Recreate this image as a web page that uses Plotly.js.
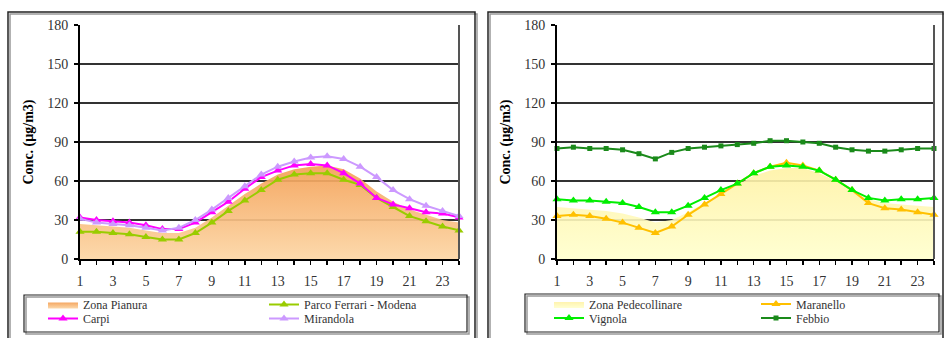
<!DOCTYPE html>
<html>
<head>
<meta charset="utf-8">
<script src="https://cdn.plot.ly/plotly-3.0.1.min.js"></script>
<style>html,body{margin:0;padding:0;background:#fff;}#chart{width:944px;height:338px;}</style>
</head>
<body>
<div id="chart"></div>
<script>
// ---- data (hours 1..24) ----
const hours = [1,2,3,4,5,6,7,8,9,10,11,12,13,14,15,16,17,18,19,20,21,22,23,24];
const yTicks = [0,30,60,90,120,150,180];
const xTickLabels = [1,3,5,7,9,11,13,15,17,19,21,23];

// left chart: pianura
const zonaPianura  = [27,26,25,24,22,20,20,24,32,41,50,58,65,69,71,72,69,62,52,44,38,34,30,28];
const parcoFerrari = [21,21,20,19,17,15,15,20,28,37,45,53,61,65,66,66,61,57,47,40,33,29,25,22];
const carpi        = [32,30,29,28,26,23,23,28,36,44,54,63,68,72,73,72,66,58,47,42,39,36,35,32];
const mirandola    = [31,28,27,26,24,22,24,30,38,47,56,65,71,75,78,79,77,71,63,53,46,41,37,33];

// right chart: pedecollinare
const zonaPedecollinare = [40,39,38,37,35,32,28,30,36,43,50,57,64,68,70,70,66,60,52,46,43,42,41,40];
const maranello = [33,34,33,31,28,24,20,25,34,42,50,58,66,71,74,72,68,61,53,43,39,38,36,34];
const vignola   = [46,45,45,44,43,40,36,36,41,47,53,58,66,71,72,71,68,61,53,47,45,46,46,47];
const febbio    = [85,86,85,85,84,81,77,82,85,86,87,88,89,91,91,90,89,86,84,83,83,84,85,85];

// ---- helpers ----
const W = 944, H = 338;
const px = v => v / W;
const py = v => 1 - v / H;
const serif = '"Liberation Serif", "Times New Roman", serif';

function lineTrace(name, y, color, symbol, size, xa, ya, leg) {
  return {
    type: 'scatter', mode: 'lines+markers', name: name,
    x: hours, y: y, xaxis: xa, yaxis: ya, legend: leg,
    line: {color: color, width: 2},
    marker: {symbol: symbol, size: size, color: color},
    cliponaxis: false, hoverinfo: 'skip'
  };
}
function areaTrace(name, y, cBottom, cTop, xa, ya, leg) {
  return {
    type: 'scatter', mode: 'lines', name: name,
    x: hours, y: y, xaxis: xa, yaxis: ya, legend: leg,
    fill: 'tozeroy', line: {width: 0, color: cTop},
    fillcolor: cTop,
    fillgradient: {type: 'vertical', colorscale: [[0, cBottom], [1, cTop]]},
    hoverinfo: 'skip'
  };
}

const traces = [
  areaTrace('Zona Pianura', zonaPianura, 'rgba(252,214,165,0.92)', 'rgba(244,160,85,0.92)', 'x', 'y', 'legend'),
  lineTrace('Parco Ferrari - Modena', parcoFerrari, '#99CC00', 'triangle-up', 8, 'x', 'y', 'legend3'),
  lineTrace('Carpi', carpi, '#FF00FF', 'triangle-up', 8, 'x', 'y', 'legend2'),
  lineTrace('Mirandola', mirandola, '#CC99FF', 'triangle-up', 8, 'x', 'y', 'legend4'),
  areaTrace('Zona Pedecollinare', zonaPedecollinare, 'rgba(255,255,205,0.9)', 'rgba(255,242,165,0.9)', 'x2', 'y2', 'legend5'),
  lineTrace('Maranello', maranello, '#FFC000', 'triangle-up', 8, 'x2', 'y2', 'legend7'),
  lineTrace('Vignola', vignola, '#00EE00', 'triangle-up', 8, 'x2', 'y2', 'legend6'),
  lineTrace('Febbio', febbio, '#1A8A1A', 'square', 5, 'x2', 'y2', 'legend8')
];

function xAxis(domain, anchor) {
  return {
    domain: domain, anchor: anchor, range: [1, 24], fixedrange: true,
    showline: true, linecolor: '#000', linewidth: 2,
    showgrid: false, zeroline: false,
    tickmode: 'array', tickvals: xTickLabels, ticktext: xTickLabels.map(String),
    ticks: 'outside', ticklen: 4, tickwidth: 1.5, tickcolor: '#000',
    minor: {tickmode: 'array', tickvals: hours, ticks: 'outside', ticklen: 4, tickwidth: 1.5, tickcolor: '#000', showgrid: false},
    tickfont: {family: serif, size: 14, color: '#333'},
    ticklabelstandoff: 4
  };
}
function yAxis(domain, anchor) {
  return {
    domain: domain, anchor: anchor, range: [0, 180], fixedrange: true,
    showline: true, linecolor: '#000', linewidth: 2,
    showgrid: true, gridcolor: '#333', gridwidth: 1.3, zeroline: false,
    tickmode: 'array', tickvals: yTicks,
    ticks: 'outside', ticklen: 4, tickwidth: 1.5, tickcolor: '#000',
    tickfont: {family: serif, size: 14, color: '#333'},
    ticklabelstandoff: 3,
    title: {text: 'Conc. (µg/m3)', font: {family: serif, size: 14, color: '#000', weight: 'bold'}, standoff: 10}
  };
}

const yDom = [1 - 259 / H, 1 - 25 / H];

function leg(x, y) {
  return {
    x: px(x), y: py(y), xanchor: 'left', yanchor: 'middle',
    bgcolor: 'rgba(0,0,0,0)', borderwidth: 0, itemwidth: 30,
    font: {family: serif, size: 12, color: '#333'}, tracegroupgap: 0
  };
}

function rect(x0, y0, x1, y1, color, width) {
  return {type: 'rect', xref: 'paper', yref: 'paper', x0: px(x0), x1: px(x1), y0: py(y0), y1: py(y1),
          line: {color: color, width: width}, fillcolor: 'rgba(0,0,0,0)', layer: 'above'};
}

const shapes = [
  // outer chart frames (with soft shadow)
  rect(10, 14, 477, 360, '#999', 1.5),
  rect(8, 12, 475, 360, '#222', 1.5),
  rect(490, 14, 945, 360, '#999', 1.5),
  rect(488, 12, 943, 360, '#222', 1.5),
  // legend boxes
  rect(26, 297, 469, 334, '#999', 1.5),
  rect(24, 295, 467, 332, '#222', 1.2),
  rect(527, 296, 941, 334, '#999', 1.5),
  rect(525, 294, 939, 332, '#222', 1.2),
  // right border of each plot area
  {type: 'line', xref: 'x domain', yref: 'y domain', x0: 1, x1: 1, y0: 0, y1: 1, line: {color: '#555', width: 2}},
  {type: 'line', xref: 'x2 domain', yref: 'y2 domain', x0: 1, x1: 1, y0: 0, y1: 1, line: {color: '#555', width: 2}}
];

const layout = {
  width: W, height: H,
  margin: {l: 0, r: 0, t: 0, b: 0},
  paper_bgcolor: '#fff', plot_bgcolor: '#fff',
  font: {family: serif, color: '#333'},
  xaxis: xAxis([px(80), px(459)], 'y'),
  yaxis: yAxis(yDom, 'x'),
  xaxis2: xAxis([px(557), px(934)], 'y2'),
  yaxis2: yAxis(yDom, 'x2'),
  legend:  leg(43, 304.5),
  legend2: leg(43, 318.5),
  legend3: leg(264, 304.5),
  legend4: leg(264, 318.5),
  legend5: leg(549, 304),
  legend6: leg(549, 318),
  legend7: leg(756, 304),
  legend8: leg(756, 318),
  shapes: shapes,
  showlegend: true
};

Plotly.newPlot('chart', traces, layout, {displayModeBar: false, staticPlot: true});
</script>
</body>
</html>
